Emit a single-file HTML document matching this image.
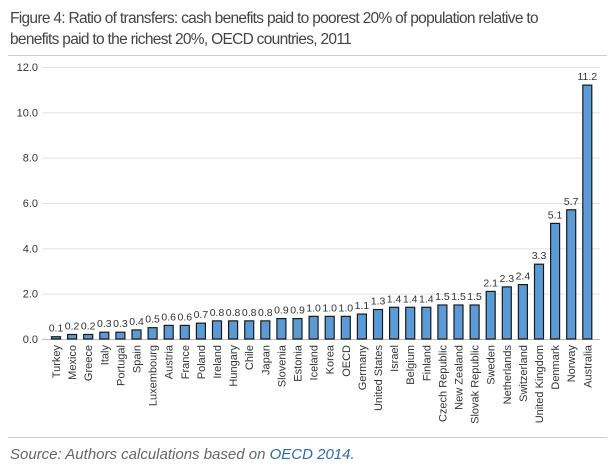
<!DOCTYPE html>
<html><head><meta charset="utf-8">
<style>
body{margin:0;width:615px;height:473px;background:#fff;overflow:hidden;font-family:"Liberation Sans",sans-serif;}
#title{position:absolute;left:10px;top:8px;width:600px;font-size:15.5px;line-height:21px;color:#444;letter-spacing:-0.7px;}
#src{position:absolute;left:10px;top:446px;font-size:15px;font-style:italic;color:#666;}
#src a{color:#2a6ab5;text-decoration:none;}
</style></head><body>
<div id="title">Figure 4: Ratio of transfers: cash benefits paid to poorest 20% of population relative to<br>benefits paid to the richest 20%, OECD countries, 2011</div>
<svg id="chart" width="615" height="473" style="position:absolute;left:0;top:0">
<line x1="8" x2="607" y1="55.5" y2="55.5" stroke="#ccc"/>
<line x1="8" x2="607" y1="437.5" y2="437.5" stroke="#ccc"/>
</svg>
<div id="src">Source: Authors calculations based on <a href="#">OECD 2014</a>.</div>
<script>
const categories=["Turkey","Mexico","Greece","Italy","Portugal","Spain","Luxembourg","Austria","France","Poland","Ireland","Hungary","Chile","Japan","Slovenia","Estonia","Iceland","Korea","OECD","Germany","United States","Israel","Belgium","Finland","Czech Republic","New Zealand","Slovak Republic","Sweden","Netherlands","Switzerland","United Kingdom","Denmark","Norway","Australia"];
const values=[0.1,0.2,0.2,0.3,0.3,0.4,0.5,0.6,0.6,0.7,0.8,0.8,0.8,0.8,0.9,0.9,1.0,1.0,1.0,1.1,1.3,1.4,1.4,1.4,1.5,1.5,1.5,2.1,2.3,2.4,3.3,5.1,5.7,11.2];
const ticks=[0,2,4,6,8,10,12];
const svg=document.getElementById('chart');
const NS='http://www.w3.org/2000/svg';
const y0=339,yTop=67,yMax=12;
const y=v=>y0-(v/yMax)*(y0-yTop);
const xL=48,step=16.1;
const x=i=>xL+step*i+8;
function mk(t,a){const e=document.createElementNS(NS,t);for(const k in a)e.setAttribute(k,a[k]);svg.appendChild(e);return e;}
ticks.forEach(t=>{
  const g=mk('line',{x1:42,x2:600,y1:y(t)+0.5,y2:y(t)+0.5,stroke:t===0?'#bbb':'#e0e0e0'});
  
  
  const tx=mk('text',{x:38,y:y(t)+4,'text-anchor':'end','font-size':'11',fill:'#333'});
  tx.textContent=t.toFixed(1);
  
  
});
categories.forEach((c,i)=>{
  const v=values[i],cx=x(i);
  const r=mk('rect',{x:cx-4.5,y:y(v),width:9,height:y0-y(v),fill:'#5b9bd5',stroke:'#1a1a1a','stroke-width':1.2});
  
  
  const vl=mk('text',{x:cx,y:y(v)-5,'text-anchor':'middle','font-size':'10.5',fill:'#333'});
  vl.textContent=v.toFixed(1);
  
  
  const cl=mk('text',{x:0,y:0,'text-anchor':'end','font-size':'11',fill:'#333',transform:`translate(${cx+4},345) rotate(-90)`});
  cl.textContent=c;
  
  
});
</script>
</body></html>
